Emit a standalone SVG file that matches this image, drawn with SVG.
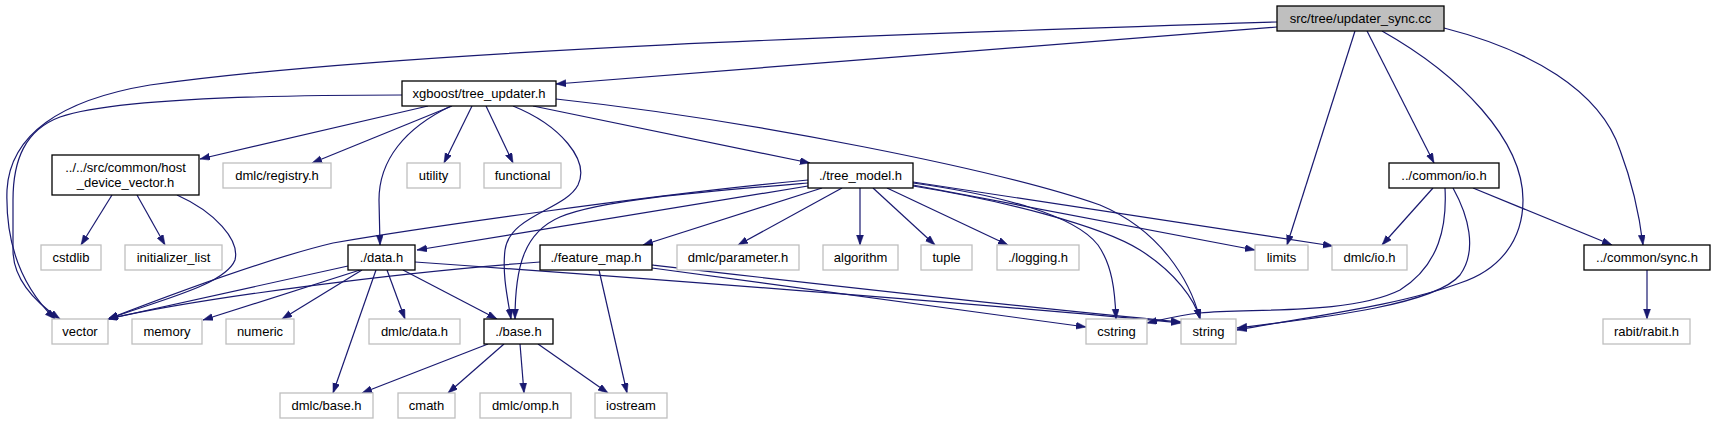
<svg xmlns="http://www.w3.org/2000/svg" width="1716" height="425" viewBox="0 0 1716 425">
<style>
.n rect{fill:#fff;stroke:#000;stroke-width:1.3}
.g rect{fill:#fff;stroke:#bfbfbf;stroke-width:1.3}
.r rect{fill:#bfbfbf;stroke:#000;stroke-width:1.3}
text{font-family:"Liberation Sans",Arial,sans-serif;font-size:13px;fill:#000;text-anchor:middle}
#edges path{fill:none;stroke:#191970;stroke-width:1.2;marker-end:url(#a)}
</style>
<defs>
<marker id="a" markerUnits="userSpaceOnUse" markerWidth="11" markerHeight="8" refX="10" refY="3.5" orient="auto">
<path d="M0,0 L10,3.5 L0,7 z" fill="#191970" stroke="#191970" stroke-width="0.5"/>
</marker>
</defs>
<rect width="1716" height="425" fill="#fff"/>
<g id="edges">
<path d="M1277,27 L556,84"/>
<path d="M1277,22 C900,34 400,50 150,85 C60,100 10,135 7,190 C5,250 25,290 55,319"/>
<path d="M402,95 C250,95 110,100 60,117 C25,130 13,160 13,200 L13,250 C13,280 35,302 60,319"/>
<path d="M428,106 L200,159"/>
<path d="M452,106 L312,163"/>
<path d="M451,106 C405,128 379,160 379,200 L380,245"/>
<path d="M472,106 L444,163"/>
<path d="M486,106 L513,163"/>
<path d="M513,106 C560,125 590,160 578,185 C565,210 510,215 505,250 C502,275 508,300 511,319"/>
<path d="M533,106 L810,163"/>
<path d="M556,99 C750,120 1000,170 1100,205 C1160,230 1190,280 1200,319"/>
<path d="M808,180 C650,195 420,228 333,243 C270,258 170,295 108,319"/>
<path d="M808,186 L417,250"/>
<path d="M808,183 C700,192 600,200 560,217 C525,232 515,265 515,319"/>
<path d="M822,188 L643,245"/>
<path d="M842,188 L738,245"/>
<path d="M860,188 L860,245"/>
<path d="M873,188 L935,245"/>
<path d="M887,188 L1008,245"/>
<path d="M913,185 L1255,250"/>
<path d="M913,182 L1333,246"/>
<path d="M913,183 C1000,195 1075,215 1098,245 C1112,265 1115,290 1116,319"/>
<path d="M913,186 C1000,200 1100,225 1140,250 C1175,272 1195,300 1200,319"/>
<path d="M1433,188 L1382,245"/>
<path d="M1473,188 L1612,245"/>
<path d="M1445,188 C1447,225 1440,265 1400,290 C1350,315 1250,308 1200,313 C1180,315 1165,319 1147,323"/>
<path d="M1453,188 C1468,215 1478,250 1460,275 C1435,305 1320,318 1237,328"/>
<path d="M1355,31 L1287,245"/>
<path d="M1367,31 L1434,163"/>
<path d="M1382,31 C1460,75 1523,140 1523,200 C1523,240 1500,270 1460,283 C1400,305 1320,315 1237,330"/>
<path d="M1444,28 C1530,50 1600,90 1620,150 C1635,190 1640,220 1643,245"/>
<path d="M1647,270 L1647,319"/>
<path d="M112,195 L81,245"/>
<path d="M137,195 L165,245"/>
<path d="M177,195 C215,212 240,240 235,260 C225,285 160,300 108,319"/>
<path d="M348,266 L108,319"/>
<path d="M360,270 L203,320"/>
<path d="M362,270 L282,319"/>
<path d="M376,270 L333,393"/>
<path d="M387,270 L405,319"/>
<path d="M403,270 L497,319"/>
<path d="M415,262 C600,275 1000,305 1181,323"/>
<path d="M540,262 C400,272 200,298 108,319"/>
<path d="M599,270 L627,393"/>
<path d="M652,268 L1086,327"/>
<path d="M652,265 C800,282 1000,305 1181,322"/>
<path d="M488,344 L362,393"/>
<path d="M504,344 L448,393"/>
<path d="M520,344 L524,393"/>
<path d="M538,344 L608,393"/>
</g>
<g id="n0" class="r"><rect x="1277" y="6" width="167" height="25"/><text x="1360.5" y="23">src/tree/updater_sync.cc</text></g>
<g id="n1" class="n"><rect x="402" y="81" width="154" height="25"/><text x="479" y="98">xgboost/tree_updater.h</text></g>
<g id="n2" class="n"><rect x="52" y="155" width="147" height="40"/><text x="125.5" y="172">../../src/common/host</text><text x="125.5" y="187">_device_vector.h</text></g>
<g id="n3" class="g"><rect x="223" y="163" width="108" height="25"/><text x="277" y="180">dmlc/registry.h</text></g>
<g id="n4" class="g"><rect x="407" y="163" width="53" height="25"/><text x="433.5" y="180">utility</text></g>
<g id="n5" class="g"><rect x="484" y="163" width="77" height="25"/><text x="522.5" y="180">functional</text></g>
<g id="n6" class="n"><rect x="808" y="163" width="105" height="25"/><text x="860.5" y="180">./tree_model.h</text></g>
<g id="n7" class="n"><rect x="1389" y="163" width="110" height="25"/><text x="1444" y="180">../common/io.h</text></g>
<g id="n8" class="g"><rect x="41" y="245" width="60" height="25"/><text x="71" y="262">cstdlib</text></g>
<g id="n9" class="g"><rect x="125" y="245" width="97" height="25"/><text x="173.5" y="262">initializer_list</text></g>
<g id="n10" class="n"><rect x="348" y="245" width="67" height="25"/><text x="381.5" y="262">./data.h</text></g>
<g id="n11" class="n"><rect x="540" y="245" width="112" height="25"/><text x="596" y="262">./feature_map.h</text></g>
<g id="n12" class="g"><rect x="677" y="245" width="122" height="25"/><text x="738" y="262">dmlc/parameter.h</text></g>
<g id="n13" class="g"><rect x="823" y="245" width="75" height="25"/><text x="860.5" y="262">algorithm</text></g>
<g id="n14" class="g"><rect x="921" y="245" width="51" height="25"/><text x="946.5" y="262">tuple</text></g>
<g id="n15" class="g"><rect x="997" y="245" width="82" height="25"/><text x="1038" y="262">./logging.h</text></g>
<g id="n16" class="g"><rect x="1255" y="245" width="53" height="25"/><text x="1281.5" y="262">limits</text></g>
<g id="n17" class="g"><rect x="1332" y="245" width="75" height="25"/><text x="1369.5" y="262">dmlc/io.h</text></g>
<g id="n18" class="n"><rect x="1584" y="245" width="126" height="25"/><text x="1647" y="262">../common/sync.h</text></g>
<g id="n19" class="g"><rect x="52" y="319" width="56" height="25"/><text x="80" y="336">vector</text></g>
<g id="n20" class="g"><rect x="132" y="319" width="70" height="25"/><text x="167" y="336">memory</text></g>
<g id="n21" class="g"><rect x="226" y="319" width="68" height="25"/><text x="260" y="336">numeric</text></g>
<g id="n22" class="g"><rect x="369" y="319" width="91" height="25"/><text x="414.5" y="336">dmlc/data.h</text></g>
<g id="n23" class="n"><rect x="484" y="319" width="69" height="25"/><text x="518.5" y="336">./base.h</text></g>
<g id="n24" class="g"><rect x="1086" y="319" width="61" height="25"/><text x="1116.5" y="336">cstring</text></g>
<g id="n25" class="g"><rect x="1181" y="319" width="55" height="25"/><text x="1208.5" y="336">string</text></g>
<g id="n26" class="g"><rect x="1603" y="319" width="87" height="25"/><text x="1646.5" y="336">rabit/rabit.h</text></g>
<g id="n27" class="g"><rect x="280" y="393" width="93" height="25"/><text x="326.5" y="410">dmlc/base.h</text></g>
<g id="n28" class="g"><rect x="398" y="393" width="57" height="25"/><text x="426.5" y="410">cmath</text></g>
<g id="n29" class="g"><rect x="480" y="393" width="91" height="25"/><text x="525.5" y="410">dmlc/omp.h</text></g>
<g id="n30" class="g"><rect x="595" y="393" width="72" height="25"/><text x="631" y="410">iostream</text></g>
</svg>
